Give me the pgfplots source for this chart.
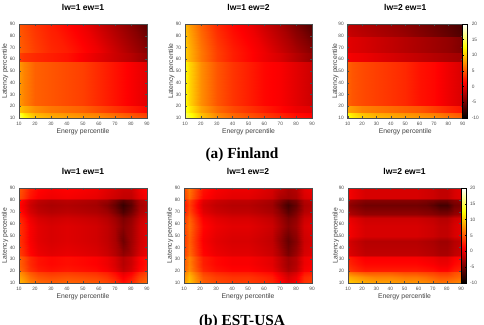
\documentclass[border=0pt]{standalone}
\usepackage{fontspec}
\setmainfont{Liberation Sans}
\newfontfamily\capfont{Liberation Serif}
\usepackage{pgfplots}
\pgfplotsset{compat=1.18}

% MATLAB-style "hot" map: black -> red -> yellow -> white
\pgfplotsset{
  colormap={hotmap}{rgb255(0cm)=(0,0,0) rgb255(3cm)=(255,0,0) rgb255(6cm)=(255,255,0) rgb255(8cm)=(255,255,255)},
  hm/.style={
    scale only axis, axis on top, enlargelimits=false,
    xmin=10, xmax=90, ymin=10, ymax=90,
    xtick={10,20,...,90}, ytick={10,20,...,90},
    tick align=inside, major tick length=1.2pt,
    tick style={black!70, line width=0.3pt},
    axis line style={black!70, line width=0.4pt},
    colormap name=hotmap, point meta min=-10, point meta max=20,
    /pgf/number format/assume math mode=true,
    tick label style={font=\fontsize{3.6}{4.2}\selectfont, text=black!70},
    xticklabel style={yshift=0.6pt},
    yticklabel style={xshift=0.6pt},
    xlabel={Energy percentile}, ylabel={Latency percentile},
    label style={font=\fontsize{5.1}{6}\selectfont, text=black!75},
    xlabel style={at={(axis description cs:0.5,-0.146)}, anchor=center},
    ylabel style={at={(axis description cs:-0.108,0.5)}, anchor=center},
    title style={font=\bfseries\fontsize{6.4}{7}\selectfont, at={(axis description cs:0.5,1.088)}, anchor=center},
  },
  hmplot/.style={surf, shader=interp, point meta=explicit, mesh/cols=#1},
  cb/.style={colorbar, colorbar style={
    at={(1,1)}, anchor=north west, xshift=#1, width=3.75pt,
    ytick={-10,-5,...,20}, major tick length=0.8pt,
    tick style={black, line width=0.3pt},
    axis line style={black, line width=0.6pt},
    /pgf/number format/assume math mode=true,
    yticklabel style={font=\fontsize{3.6}{4.2}\selectfont, text=black!70, xshift=-0.5pt}}},
}

\begin{document}
\begin{tikzpicture}
\path[use as bounding box] (0,0) rectangle (363pt,243pt);
\clip (0,0) rectangle (363pt,243pt);

% ---------------- (a) Finland ----------------
\begin{axis}[hm, at={(14.25pt,225pt)}, anchor=north west, width=96pt, height=70.5pt, title={lw=1 ew=1}]
\addplot[hmplot=10] coordinates {
(10,10)[16] (13,10)[13] (20,10)[10] (30,10)[9] (40,10)[8.5] (50,10)[8] (60,10)[7.5] (70,10)[6.5] (80,10)[5.5] (90,10)[4.5]
(10,14.9)[13.5] (13,14.9)[11] (20,14.9)[9] (30,14.9)[8] (40,14.9)[7.5] (50,14.9)[7] (60,14.9)[6.5] (70,14.9)[5.5] (80,14.9)[4.5] (90,14.9)[3.5]
(10,15.1)[10] (13,15.1)[9] (20,15.1)[7.5] (30,15.1)[6.5] (40,15.1)[6] (50,15.1)[5.5] (60,15.1)[4.5] (70,15.1)[3.5] (80,15.1)[2.5] (90,15.1)[1.5]
(10,20.9)[10] (13,20.9)[9] (20,20.9)[7.5] (30,20.9)[6.5] (40,20.9)[6] (50,20.9)[5.5] (60,20.9)[4.5] (70,20.9)[3.5] (80,20.9)[2.5] (90,20.9)[1.5]
(10,21.1)[8] (13,21.1)[7] (20,21.1)[5.5] (30,21.1)[5] (40,21.1)[4.5] (50,21.1)[4] (60,21.1)[3] (70,21.1)[2] (80,21.1)[1] (90,21.1)[0]
(10,57.9)[8] (13,57.9)[7] (20,57.9)[5.5] (30,57.9)[5] (40,57.9)[4.5] (50,57.9)[4] (60,57.9)[3] (70,57.9)[2] (80,57.9)[1] (90,57.9)[0]
(10,58.1)[4] (13,58.1)[3.5] (20,58.1)[3] (30,58.1)[2.5] (40,58.1)[2] (50,58.1)[1] (60,58.1)[0] (70,58.1)[-1] (80,58.1)[-2] (90,58.1)[-3.5]
(10,65.9)[4] (13,65.9)[3.5] (20,65.9)[3] (30,65.9)[2.5] (40,65.9)[2] (50,65.9)[1] (60,65.9)[0] (70,65.9)[-1] (80,65.9)[-2] (90,65.9)[-3.5]
(10,66.1)[5.5] (13,66.1)[5] (20,66.1)[4] (30,66.1)[3] (40,66.1)[2.5] (50,66.1)[1.5] (60,66.1)[0.5] (70,66.1)[-1] (80,66.1)[-2.5] (90,66.1)[-4]
(10,90)[5] (13,90)[4.5] (20,90)[3.5] (30,90)[2.5] (40,90)[1.5] (50,90)[0.5] (60,90)[-1] (70,90)[-2.5] (80,90)[-4] (90,90)[-6]
};
\end{axis}

\begin{axis}[hm, at={(138.75pt,225pt)}, anchor=north west, width=95.25pt, height=70.5pt, title={lw=1 ew=2}]
\addplot[hmplot=10] coordinates {
(10,10)[15.5] (13,10)[13.5] (20,10)[10] (30,10)[7.5] (40,10)[6] (50,10)[5] (60,10)[4] (70,10)[3] (80,10)[2] (90,10)[1.5]
(10,14.9)[14.5] (13,14.9)[12.5] (20,14.9)[9.5] (30,14.9)[7] (40,14.9)[5.5] (50,14.9)[4.5] (60,14.9)[3.5] (70,14.9)[2.5] (80,14.9)[1.5] (90,14.9)[1]
(10,15.1)[13.5] (13,15.1)[11.5] (20,15.1)[8.5] (30,15.1)[6] (40,15.1)[4.5] (50,15.1)[3.5] (60,15.1)[2.5] (70,15.1)[1.5] (80,15.1)[0.5] (90,15.1)[0]
(10,20.9)[13.5] (13,20.9)[11.5] (20,20.9)[8.5] (30,20.9)[6] (40,20.9)[4.5] (50,20.9)[3.5] (60,20.9)[2.5] (70,20.9)[1.5] (80,20.9)[0.5] (90,20.9)[0]
(10,21.1)[12.5] (13,21.1)[10.5] (20,21.1)[7.5] (30,21.1)[5] (40,21.1)[3.5] (50,21.1)[2.5] (60,21.1)[1.5] (70,21.1)[1] (80,21.1)[0] (90,21.1)[-1]
(10,57.9)[12.5] (13,57.9)[10.5] (20,57.9)[7.5] (30,57.9)[5] (40,57.9)[3.5] (50,57.9)[2.5] (60,57.9)[1.5] (70,57.9)[1] (80,57.9)[0] (90,57.9)[-1]
(10,58.1)[10.5] (13,58.1)[9] (20,58.1)[6.5] (30,58.1)[4] (40,58.1)[2.5] (50,58.1)[1.5] (60,58.1)[0.5] (70,58.1)[-0.5] (80,58.1)[-2] (90,58.1)[-3.5]
(10,65.9)[10.5] (13,65.9)[9] (20,65.9)[6.5] (30,65.9)[4] (40,65.9)[2.5] (50,65.9)[1.5] (60,65.9)[0.5] (70,65.9)[-0.5] (80,65.9)[-2] (90,65.9)[-3.5]
(10,66.1)[10.5] (13,66.1)[9] (20,66.1)[6.5] (30,66.1)[4] (40,66.1)[2.5] (50,66.1)[1.5] (60,66.1)[0.5] (70,66.1)[-1] (80,66.1)[-2.5] (90,66.1)[-4]
(10,90)[9.5] (13,90)[8] (20,90)[5.5] (30,90)[3] (40,90)[1.5] (50,90)[0.5] (60,90)[-1] (70,90)[-2.5] (80,90)[-4.5] (90,90)[-6.5]
};
\end{axis}

\begin{axis}[hm, cb=2.5pt, at={(260.8pt,225pt)}, anchor=north west, width=86.25pt, height=70.5pt, title={lw=2 ew=1}]
\addplot[hmplot=10] coordinates {
(10,10)[13] (13,10)[12] (20,10)[10.5] (30,10)[9.5] (40,10)[9] (50,10)[8.5] (60,10)[8] (70,10)[7.5] (80,10)[6.5] (90,10)[5.5]
(10,14.9)[12] (13,14.9)[11] (20,14.9)[9.5] (30,14.9)[8.5] (40,14.9)[8] (50,14.9)[7.5] (60,14.9)[7] (70,14.9)[6.5] (80,14.9)[5.5] (90,14.9)[4.5]
(10,15.1)[8.5] (13,15.1)[8] (20,15.1)[7] (30,15.1)[6.5] (40,15.1)[6] (50,15.1)[5.5] (60,15.1)[5] (70,15.1)[4] (80,15.1)[3] (90,15.1)[2]
(10,20.9)[8.5] (13,20.9)[8] (20,20.9)[7] (30,20.9)[6.5] (40,20.9)[6] (50,20.9)[5.5] (60,20.9)[5] (70,20.9)[4] (80,20.9)[3] (90,20.9)[2]
(10,21.1)[5.5] (13,21.1)[5] (20,21.1)[4.5] (30,21.1)[4] (40,21.1)[3.5] (50,21.1)[3] (60,21.1)[2] (70,21.1)[1.5] (80,21.1)[0.5] (90,21.1)[-0.5]
(10,57.9)[5.5] (13,57.9)[5] (20,57.9)[4.5] (30,57.9)[4] (40,57.9)[3.5] (50,57.9)[3] (60,57.9)[2] (70,57.9)[1.5] (80,57.9)[0.5] (90,57.9)[-0.5]
(10,58.1)[1] (13,58.1)[0.7] (20,58.1)[0.5] (30,58.1)[0] (40,58.1)[-0.5] (50,58.1)[-1] (60,58.1)[-1.5] (70,58.1)[-2] (80,58.1)[-2.5] (90,58.1)[-3]
(10,65.9)[1] (13,65.9)[0.7] (20,65.9)[0.5] (30,65.9)[0] (40,65.9)[-0.5] (50,65.9)[-1] (60,65.9)[-1.5] (70,65.9)[-2] (80,65.9)[-2.5] (90,65.9)[-3]
(10,66.1)[0] (13,66.1)[-0.2] (20,66.1)[-0.5] (30,66.1)[-1] (40,66.1)[-1.5] (50,66.1)[-2] (60,66.1)[-2.5] (70,66.1)[-3] (80,66.1)[-3.5] (90,66.1)[-4.5]
(10,79.9)[0] (13,79.9)[-0.2] (20,79.9)[-0.5] (30,79.9)[-1] (40,79.9)[-1.5] (50,79.9)[-2] (60,79.9)[-2.5] (70,79.9)[-3] (80,79.9)[-3.5] (90,79.9)[-4.5]
(10,80.1)[-1] (13,80.1)[-1.3] (20,80.1)[-1.7] (30,80.1)[-2.2] (40,80.1)[-2.7] (50,80.1)[-3.2] (60,80.1)[-4] (70,80.1)[-4.7] (80,80.1)[-5.5] (90,80.1)[-6.5]
(10,90)[-1.5] (13,90)[-1.8] (20,90)[-2.2] (30,90)[-2.7] (40,90)[-3.2] (50,90)[-3.8] (60,90)[-4.5] (70,90)[-5.2] (80,90)[-6] (90,90)[-7]
};
\end{axis}

\node[anchor=base, font=\capfont\bfseries\fontsize{11.5}{13}\selectfont] at (181.5pt,124.3pt) {(a) Finland};

% ---------------- (b) EST-USA ----------------
\begin{axis}[hm, at={(14.25pt,102pt)}, anchor=north west, width=96pt, height=71.25pt, title={lw=1 ew=1}]
\addplot[hmplot=14] coordinates {
(10,10)[9.5] (13,10)[8.5] (17,10)[7] (22,10)[6] (30,10)[5.5] (40,10)[5.8] (50,10)[5.5] (58,10)[5.2] (65,10)[4.5] (70,10)[3.5] (75,10)[2] (80,10)[3] (85,10)[5] (90,10)[6]
(10,15)[8.5] (13,15)[7.5] (17,15)[6] (22,15)[5] (30,15)[4.5] (40,15)[4.8] (50,15)[4.5] (58,15)[4.2] (65,15)[3.5] (70,15)[2.5] (75,15)[1] (80,15)[2] (85,15)[4] (90,15)[5]
(10,19.5)[7.5] (13,19.5)[6.5] (17,19.5)[5] (22,19.5)[4] (30,19.5)[3.5] (40,19.5)[3.8] (50,19.5)[3.5] (58,19.5)[3.2] (65,19.5)[2.5] (70,19.5)[1.5] (75,19.5)[0] (80,19.5)[1] (85,19.5)[3] (90,19.5)[4]
(10,20.5)[6] (13,20.5)[5] (17,20.5)[3.5] (22,20.5)[2.5] (30,20.5)[2] (40,20.5)[2.3] (50,20.5)[2] (58,20.5)[1.7] (65,20.5)[1] (70,20.5)[0] (75,20.5)[-1.5] (80,20.5)[-0.5] (85,20.5)[1.5] (90,20.5)[2.5]
(10,26)[5.5] (13,26)[4.5] (17,26)[3] (22,26)[2] (30,26)[1.5] (40,26)[1.8] (50,26)[1.5] (58,26)[1.2] (65,26)[0.5] (70,26)[-0.5] (75,26)[-2] (80,26)[-1] (85,26)[1] (90,26)[2]
(10,31.5)[5.5] (13,31.5)[4.5] (17,31.5)[3] (22,31.5)[2] (30,31.5)[1.5] (40,31.5)[1.8] (50,31.5)[1.5] (58,31.5)[1.2] (65,31.5)[0.5] (70,31.5)[-0.5] (75,31.5)[-2] (80,31.5)[-1] (85,31.5)[1] (90,31.5)[2]
(10,33.5)[4] (13,33.5)[3] (17,33.5)[1.5] (22,33.5)[0.5] (30,33.5)[0] (40,33.5)[0.3] (50,33.5)[0] (58,33.5)[-0.3] (65,33.5)[-1] (70,33.5)[-2] (75,33.5)[-3.5] (80,33.5)[-2.5] (85,33.5)[-0.5] (90,33.5)[0.5]
(10,45)[3.5] (13,45)[2.5] (17,45)[1] (22,45)[0] (30,45)[-0.5] (40,45)[-0.2] (50,45)[-0.5] (58,45)[-0.8] (65,45)[-1.5] (70,45)[-2.5] (75,45)[-5] (80,45)[-3] (85,45)[-1] (90,45)[0]
(10,58)[3.5] (13,58)[2.5] (17,58)[1] (22,58)[0] (30,58)[-0.5] (40,58)[-0.2] (50,58)[-0.5] (58,58)[-0.8] (65,58)[-1.5] (70,58)[-2.5] (75,58)[-4] (80,58)[-3] (85,58)[-1] (90,58)[0]
(10,65)[3] (13,65)[2] (17,65)[0.5] (22,65)[-0.5] (30,65)[-1] (40,65)[-0.7] (50,65)[-1] (58,65)[-1.3] (65,65)[-2] (70,65)[-3] (75,65)[-4.5] (80,65)[-3.5] (85,65)[-1.5] (90,65)[-0.5]
(10,70)[2] (13,70)[1] (17,70)[-0.5] (22,70)[-1.5] (30,70)[-2] (40,70)[-1.7] (50,70)[-2] (58,70)[-2.3] (65,70)[-3] (70,70)[-4.5] (75,70)[-6.5] (80,70)[-5] (85,70)[-2.5] (90,70)[-1.5]
(10,76)[1.5] (13,76)[0.5] (17,76)[-1] (22,76)[-2] (30,76)[-2.5] (40,76)[-2.2] (50,76)[-2.5] (58,76)[-2.8] (65,76)[-4] (70,76)[-5.5] (75,76)[-7.5] (80,76)[-6] (85,76)[-3] (90,76)[-2]
(10,80)[2] (13,80)[1] (17,80)[-0.5] (22,80)[-1.5] (30,80)[-2] (40,80)[-1.7] (50,80)[-2] (58,80)[-2.3] (65,80)[-3] (70,80)[-4.5] (75,80)[-6] (80,80)[-5] (85,80)[-2.5] (90,80)[-1.5]
(10,82)[4.5] (13,82)[3.5] (17,82)[2] (22,82)[1] (30,82)[0.5] (40,82)[0.8] (50,82)[0.5] (58,82)[0.2] (65,82)[-0.5] (70,82)[-1] (75,82)[-1.5] (80,82)[-1.5] (85,82)[0] (90,82)[1]
(10,90)[5] (13,90)[4] (17,90)[2.5] (22,90)[1.5] (30,90)[1] (40,90)[1.3] (50,90)[1] (58,90)[0.7] (65,90)[0] (70,90)[-0.5] (75,90)[-1] (80,90)[-1] (85,90)[0.5] (90,90)[1.5]
};
\end{axis}

\begin{axis}[hm, at={(138pt,102pt)}, anchor=north west, width=96pt, height=71.25pt, title={lw=1 ew=2}]
\addplot[hmplot=14] coordinates {
(10,10)[8] (13,10)[10] (17,10)[8] (22,10)[5.5] (30,10)[4.5] (40,10)[4] (50,10)[4] (58,10)[3.5] (65,10)[3] (70,10)[1.5] (75,10)[0] (80,10)[1] (85,10)[3.5] (90,10)[4]
(10,15)[7.5] (13,15)[9.5] (17,15)[7.5] (22,15)[5] (30,15)[4] (40,15)[3.5] (50,15)[3.5] (58,15)[3] (65,15)[2.5] (70,15)[1] (75,15)[-0.5] (80,15)[0.5] (85,15)[3] (90,15)[3.5]
(10,19.5)[6.5] (13,19.5)[8.5] (17,19.5)[6.5] (22,19.5)[4] (30,19.5)[3] (40,19.5)[2.5] (50,19.5)[2.5] (58,19.5)[2] (65,19.5)[1.5] (70,19.5)[0] (75,19.5)[-1.5] (80,19.5)[-0.5] (85,19.5)[2] (90,19.5)[2.5]
(10,20.5)[5.5] (13,20.5)[7.5] (17,20.5)[5.5] (22,20.5)[3] (30,20.5)[2] (40,20.5)[1.5] (50,20.5)[1.5] (58,20.5)[1] (65,20.5)[0.5] (70,20.5)[-1] (75,20.5)[-2.5] (80,20.5)[-1.5] (85,20.5)[1] (90,20.5)[1.5]
(10,26)[5] (13,26)[7] (17,26)[5] (22,26)[2.5] (30,26)[1.5] (40,26)[1] (50,26)[1] (58,26)[0.5] (65,26)[0] (70,26)[-1.5] (75,26)[-3] (80,26)[-2] (85,26)[0.5] (90,26)[1]
(10,31.5)[5] (13,31.5)[7] (17,31.5)[5] (22,31.5)[2.5] (30,31.5)[1.5] (40,31.5)[1] (50,31.5)[1] (58,31.5)[0.5] (65,31.5)[0] (70,31.5)[-1.5] (75,31.5)[-3] (80,31.5)[-2] (85,31.5)[0.5] (90,31.5)[1]
(10,33.5)[4] (13,33.5)[6] (17,33.5)[4] (22,33.5)[1.5] (30,33.5)[0.5] (40,33.5)[0] (50,33.5)[0] (58,33.5)[-0.5] (65,33.5)[-1] (70,33.5)[-2.5] (75,33.5)[-4.5] (80,33.5)[-3] (85,33.5)[-0.5] (90,33.5)[0]
(10,45)[3.5] (13,45)[5.5] (17,45)[3.5] (22,45)[1] (30,45)[0] (40,45)[-0.5] (50,45)[-0.5] (58,45)[-1] (65,45)[-1.5] (70,45)[-3.5] (75,45)[-5.5] (80,45)[-4] (85,45)[-1] (90,45)[-0.5]
(10,58)[4] (13,58)[6] (17,58)[4] (22,58)[1.5] (30,58)[0.5] (40,58)[0] (50,58)[0] (58,58)[-0.5] (65,58)[-1] (70,58)[-2.5] (75,58)[-4] (80,58)[-3] (85,58)[-0.5] (90,58)[0]
(10,65)[3.5] (13,65)[5.5] (17,65)[3.5] (22,65)[1] (30,65)[0] (40,65)[-0.5] (50,65)[-0.5] (58,65)[-1] (65,65)[-1.5] (70,65)[-3] (75,65)[-4.5] (80,65)[-3.5] (85,65)[-1] (90,65)[-0.5]
(10,70)[2.5] (13,70)[4.5] (17,70)[2.5] (22,70)[0] (30,70)[-1] (40,70)[-1.5] (50,70)[-1.5] (58,70)[-2] (65,70)[-2.5] (70,70)[-4] (75,70)[-6] (80,70)[-4.5] (85,70)[-2] (90,70)[-1.5]
(10,76)[2] (13,76)[4] (17,76)[2] (22,76)[-0.5] (30,76)[-1.5] (40,76)[-2] (50,76)[-2] (58,76)[-2.5] (65,76)[-3] (70,76)[-5] (75,76)[-7] (80,76)[-5.5] (85,76)[-2.5] (90,76)[-2]
(10,80)[2.5] (13,80)[4.5] (17,80)[2.5] (22,80)[0] (30,80)[-1] (40,80)[-1.5] (50,80)[-1.5] (58,80)[-2] (65,80)[-2.5] (70,80)[-4] (75,80)[-5.5] (80,80)[-4.5] (85,80)[-2] (90,80)[-1.5]
(10,82)[4] (13,82)[6] (17,82)[4] (22,82)[1.5] (30,82)[0.5] (40,82)[0] (50,82)[0] (58,82)[-0.5] (65,82)[-1] (70,82)[-2.5] (75,82)[-3] (80,82)[-2.5] (85,82)[-0.5] (90,82)[0]
(10,90)[4.5] (13,90)[6.5] (17,90)[4.5] (22,90)[2] (30,90)[1] (40,90)[0.5] (50,90)[0.5] (58,90)[0] (65,90)[-0.5] (70,90)[-1.5] (75,90)[-2.5] (80,90)[-2] (85,90)[0] (90,90)[0.5]
};
\end{axis}

\begin{axis}[hm, cb=3.75pt, at={(261pt,102pt)}, anchor=north west, width=84.75pt, height=71.25pt, title={lw=2 ew=1}]
\addplot[hmplot=14] coordinates {
(10,10)[10.5] (13,10)[10] (17,10)[9.5] (22,10)[9] (30,10)[8.5] (40,10)[8.5] (50,10)[8] (58,10)[8] (65,10)[7.5] (70,10)[7] (75,10)[6.5] (80,10)[6.5] (85,10)[7] (90,10)[7.5]
(10,15)[9] (13,15)[8.5] (17,15)[8] (22,15)[7.5] (30,15)[7] (40,15)[7] (50,15)[6.5] (58,15)[6.5] (65,15)[6] (70,15)[5.5] (75,15)[5] (80,15)[5] (85,15)[5.5] (90,15)[6]
(10,19.5)[6.5] (13,19.5)[6] (17,19.5)[5.5] (22,19.5)[5] (30,19.5)[5] (40,19.5)[5] (50,19.5)[4.5] (58,19.5)[4.5] (65,19.5)[4.2] (70,19.5)[4] (75,19.5)[3.5] (80,19.5)[3.5] (85,19.5)[4.5] (90,19.5)[5]
(10,20.5)[4] (13,20.5)[3.5] (17,20.5)[3] (22,20.5)[2.5] (30,20.5)[2.5] (40,20.5)[2.5] (50,20.5)[2.5] (58,20.5)[2.5] (65,20.5)[2.2] (70,20.5)[2] (75,20.5)[1.5] (80,20.5)[1.5] (85,20.5)[2.5] (90,20.5)[3]
(10,26)[3] (13,26)[2.5] (17,26)[2] (22,26)[1.5] (30,26)[1.5] (40,26)[1.5] (50,26)[1.5] (58,26)[1.5] (65,26)[1.2] (70,26)[1] (75,26)[0.5] (80,26)[0.5] (85,26)[1.5] (90,26)[2]
(10,31.5)[2.5] (13,31.5)[2] (17,31.5)[1.5] (22,31.5)[1] (30,31.5)[1] (40,31.5)[1] (50,31.5)[1] (58,31.5)[1] (65,31.5)[0.7] (70,31.5)[0.5] (75,31.5)[0] (80,31.5)[0] (85,31.5)[1] (90,31.5)[1.5]
(10,33.5)[0] (13,33.5)[-0.5] (17,33.5)[-1] (22,33.5)[-1.5] (30,33.5)[-1.5] (40,33.5)[-1.5] (50,33.5)[-1.5] (58,33.5)[-1.5] (65,33.5)[-1.8] (70,33.5)[-2] (75,33.5)[-2.5] (80,33.5)[-2.5] (85,33.5)[-1.5] (90,33.5)[-1]
(10,45)[-0.5] (13,45)[-1] (17,45)[-1.5] (22,45)[-2] (30,45)[-2] (40,45)[-2] (50,45)[-2] (58,45)[-2] (65,45)[-2.3] (70,45)[-2.5] (75,45)[-3] (80,45)[-3] (85,45)[-2] (90,45)[-1.5]
(10,50)[1] (13,50)[0.5] (17,50)[0] (22,50)[-0.5] (30,50)[-0.5] (40,50)[-0.5] (50,50)[-0.5] (58,50)[-0.5] (65,50)[-0.8] (70,50)[-1] (75,50)[-1.5] (80,50)[-1.5] (85,50)[-0.5] (90,50)[0]
(10,58)[1] (13,58)[0.5] (17,58)[0] (22,58)[-0.5] (30,58)[-0.5] (40,58)[-0.5] (50,58)[-0.5] (58,58)[-0.5] (65,58)[-0.8] (70,58)[-1] (75,58)[-1.5] (80,58)[-1.5] (85,58)[-0.5] (90,58)[0]
(10,65)[0.5] (13,65)[0] (17,65)[-0.5] (22,65)[-1] (30,65)[-1] (40,65)[-1] (50,65)[-1] (58,65)[-1] (65,65)[-1.3] (70,65)[-1.5] (75,65)[-2] (80,65)[-2] (85,65)[-1] (90,65)[-0.5]
(10,68)[-2] (13,68)[-2.5] (17,68)[-3] (22,68)[-3.5] (30,68)[-3.5] (40,68)[-3.5] (50,68)[-3.5] (58,68)[-3.5] (65,68)[-3.8] (70,68)[-4] (75,68)[-4.5] (80,68)[-4.5] (85,68)[-3.5] (90,68)[-3]
(10,76)[-3.5] (13,76)[-4] (17,76)[-4.5] (22,76)[-5] (30,76)[-5] (40,76)[-5] (50,76)[-5] (58,76)[-5] (65,76)[-5.3] (70,76)[-6] (75,76)[-7] (80,76)[-7] (85,76)[-5] (90,76)[-4.5]
(10,80)[-2.5] (13,80)[-3] (17,80)[-3.5] (22,80)[-4] (30,80)[-4] (40,80)[-4] (50,80)[-4] (58,80)[-4] (65,80)[-4.3] (70,80)[-4.5] (75,80)[-5] (80,80)[-5] (85,80)[-4] (90,80)[-3.5]
(10,82)[1] (13,82)[0.5] (17,82)[0] (22,82)[-0.5] (30,82)[-0.5] (40,82)[-0.5] (50,82)[-0.5] (58,82)[-0.5] (65,82)[-0.8] (70,82)[-1] (75,82)[-1.5] (80,82)[-1.5] (85,82)[-0.5] (90,82)[0]
(10,90)[1] (13,90)[0.5] (17,90)[0] (22,90)[-0.5] (30,90)[-0.5] (40,90)[-0.5] (50,90)[-0.5] (58,90)[-0.5] (65,90)[-0.8] (70,90)[-1] (75,90)[-1.5] (80,90)[-1.5] (85,90)[-0.5] (90,90)[0]
};
\end{axis}

\node[anchor=base, font=\capfont\bfseries\fontsize{11.5}{13}\selectfont] at (181.5pt,-1.3pt) {(b) EST-USA};
\end{tikzpicture}
\end{document}
